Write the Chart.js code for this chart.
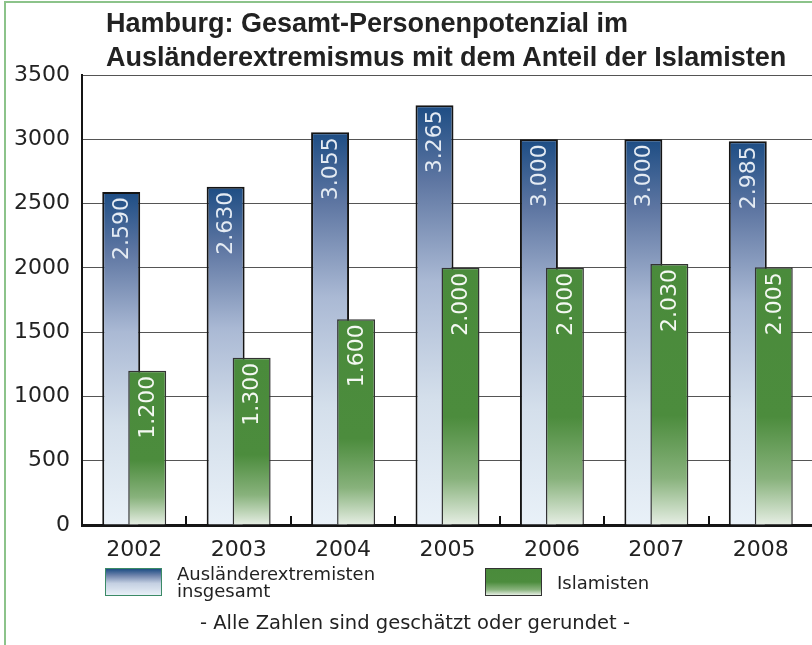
<!DOCTYPE html>
<html lang="de">
<head>
  <meta charset="UTF-8" />
  <title>Hamburg: Personenpotenzial Ausländerextremismus</title>
  <script src="https://cdn.jsdelivr.net/npm/chart.js"></script>
  <style>
    html, body {
      margin: 0;
      padding: 0;
      width: 812px;
      height: 645px;
      overflow: hidden;
      background: #fff;
      font-family: "DejaVu Sans", sans-serif;
      color: #222;
    }
    .frame {
      position: absolute;
      left: 4px;
      top: 1px;
      width: 900px;
      height: 700px;
      border-left: 2px solid #8cc38a;
      border-top: 2px solid #8cc38a;
    }
    .title {
      position: absolute;
      left: 106px;
      top: 6px;
      font-family: "Liberation Sans", Arial, sans-serif;
      font-weight: bold;
      font-size: 27px;
      line-height: 34px;
      white-space: nowrap;
      color: #222;
    }
    .chart-box {
      position: absolute;
      left: 0;
      top: 0;
      width: 830px;
      height: 645px;
    }
    .legend-box {
      position: absolute;
      height: 28px;
      width: 57px;
      box-sizing: border-box;
    }
    .legend-text {
      position: absolute;
      font-size: 18px;
      line-height: 17px;
      color: #222;
      white-space: nowrap;
    }
    .note {
      position: absolute;
      left: 115px;
      width: 600px;
      text-align: center;
      top: 611px;
      font-size: 19.5px;
      white-space: nowrap;
      color: #222;
    }
  </style>
</head>
<body>
  <div class="frame"></div>
  <div class="chart-box"><canvas id="hamburgChart"></canvas></div>
  <div class="title">Hamburg: Gesamt-Personenpotenzial im<br>Ausländerextremismus mit dem Anteil der Islamisten</div>

  <div class="legend-box" style="left:105px; top:568px; border:1px solid #3b8a66;
       background:linear-gradient(#1d4d84 0%, #6f84ac 25%, #c4d0e2 55%, #e8f0f7 100%);"></div>
  <div class="legend-text" style="left:177px; top:565px;">Ausländerextremisten<br>insgesamt</div>

  <div class="legend-box" style="left:485px; top:568px; border:1px solid #333;
       background:linear-gradient(#4a8b3b 0%, #4c8c3d 50%, #8ab47e 80%, #e6eee4 100%);"></div>
  <div class="legend-text" style="left:557px; top:574px;">Islamisten</div>

  <div class="note">- Alle Zahlen sind geschätzt oder gerundet -</div>

  <script>
    const jahre = ["2002", "2003", "2004", "2005", "2006", "2007", "2008"];
    const auslaenderextremisten = [2590, 2630, 3055, 3265, 3000, 3000, 2985];
    const islamisten = [1200, 1300, 1600, 2000, 2000, 2030, 2005];
    const yTicks = [0, 500, 1000, 1500, 2000, 2500, 3000, 3500];

    Chart.defaults.font.family = '"DejaVu Sans", sans-serif';
    Chart.defaults.color = '#222';

    function fmt(v) {
      return String(v).replace(/\B(?=(\d{3})+(?!\d))/g, '.');
    }

    function barGradient(stops, fallback) {
      return function (c) {
        const chart = c.chart;
        if (!chart.chartArea || c.raw == null) return fallback;
        const y = chart.scales.y;
        const top = y.getPixelForValue(c.raw);
        const bottom = y.getPixelForValue(0);
        const g = chart.ctx.createLinearGradient(0, top, 0, bottom);
        stops.forEach(s => g.addColorStop(s[0], s[1]));
        return g;
      };
    }

    // blaue Balken zuerst, gruene darueber; dann Werte senkrecht in die Balken
    const extras = {
      id: 'extras',
      beforeDatasetsDraw(chart) {
        chart.getDatasetMeta(0).controller.draw();
        chart.getDatasetMeta(1).controller.draw();
        return false;
      },
      afterDraw(chart) {
        const ctx = chart.ctx;
        ctx.save();
        ctx.font = '22px "DejaVu Sans", sans-serif';
        ctx.textAlign = 'right';
        ctx.textBaseline = 'middle';
        chart.data.datasets.forEach((ds, i) => {
          const meta = chart.getDatasetMeta(i);
          meta.data.forEach((bar, j) => {
            ctx.save();
            ctx.translate(bar.x + 1, bar.y + 5);
            ctx.rotate(-Math.PI / 2);
            ctx.fillStyle = ds.labelColor;
            ctx.fillText(fmt(ds.data[j]), 0, 0);
            ctx.restore();
          });
        });

        // kleine Striche zwischen den Jahren
        const x = chart.scales.x;
        const bottom = chart.chartArea.bottom;
        ctx.strokeStyle = '#111';
        ctx.lineWidth = 2;
        for (let i = 0; i < jahre.length - 1; i++) {
          const px = Math.round(x.getPixelForValue(i + 0.5));
          ctx.beginPath();
          ctx.moveTo(px, bottom - 9);
          ctx.lineTo(px, bottom);
          ctx.stroke();
        }
        ctx.restore();
      }
    };

    new Chart(document.getElementById('hamburgChart'), {
      type: 'bar',
      data: {
        labels: jahre,
        datasets: [
          {
            label: 'Ausländerextremisten insgesamt',
            data: auslaenderextremisten,
            backgroundColor: barGradient([[0, '#1d4d84'], [0.18, '#5e76a2'], [0.42, '#aab9d4'], [0.7, '#d4dfeb'], [1, '#e9f1f8']], '#8ea0c2'),
            borderColor: '#151515',
            borderWidth: 2,
            labelColor: '#e4ebf3'
          },
          {
            label: 'Islamisten',
            data: islamisten,
            backgroundColor: barGradient([[0, '#4a8b3b'], [0.58, '#4c8c3d'], [0.82, '#88b27c'], [1, '#e6eee4']], '#4a8b3b'),
            borderColor: '#333',
            borderWidth: 1.5,
            labelColor: '#f4f8f2'
          }
        ]
      },
      options: {
        responsive: true,
        maintainAspectRatio: false,
        animation: false,
        categoryPercentage: 0.498,
        barPercentage: 1.46,
        layout: { padding: { top: 75, right: 17, left: 0, bottom: 0 } },
        plugins: {
          legend: { display: false },
          title: { display: false },
          tooltip: { enabled: false }
        },
        scales: {
          x: {
            offset: true,
            grid: { display: false, drawTicks: false },
            border: { display: true, color: '#151515', width: 3 },
            ticks: { font: { size: 22 }, color: '#222', padding: 12 },
            afterFit: s => { s.height = 120; }
          },
          y: {
            min: 0,
            max: 3500,
            afterBuildTicks: s => { s.ticks = yTicks.map(v => ({ value: v })); },
            grid: { color: '#555', lineWidth: 1, drawTicks: false },
            border: { display: true, color: '#151515', width: 2 },
            ticks: { font: { size: 22 }, color: '#222', padding: 12, callback: v => String(v) },
            afterFit: s => { s.width = 82; }
          }
        }
      },
      plugins: [extras]
    });
  </script>
</body>
</html>
